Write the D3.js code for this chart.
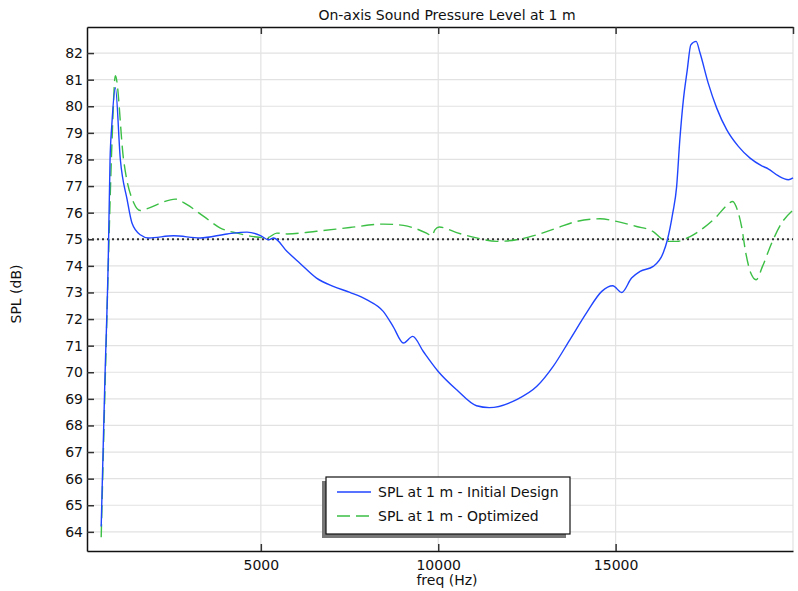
<!DOCTYPE html>
<html>
<head>
<meta charset="utf-8">
<script src="https://cdn.jsdelivr.net/npm/d3@7"></script>
<style>
  body { margin: 0; background: #fff; }
  svg { font-family: "DejaVu Sans", sans-serif; }
</style>
</head>
<body>
<svg id="chart" width="798" height="591"></svg>
<script>
// readings from the picture
const freqInitial = [500, 600, 700, 750, 800, 900, 1040, 1230, 1370, 1600, 1840, 2540, 3290, 4050, 4610, 4990, 5220, 5360, 5740,
  6100, 6570, 7040, 7510, 7980, 8450, 8730, 9020, 9280, 9580, 10000, 10520, 11080, 11440, 12210, 12780, 13240, 13710,
  14180, 14610, 14920, 15170, 15450, 15690, 16060, 16340, 16460, 16610, 16720, 16810, 16910, 17020, 17120, 17270,
  17380, 17610, 17850, 18130, 18460, 18790, 19120, 19300, 19580, 19870, 20000];
const splInitial = [64.2, 69.5, 74.3, 78.0, 79.3, 80.7, 78.0, 76.5, 75.6, 75.17, 75.05, 75.13, 75.05, 75.2, 75.27, 75.14, 74.98, 75.05, 74.54,
  74.1, 73.54, 73.23, 73.0, 72.73, 72.29, 71.72, 71.1, 71.35, 70.78, 70.03, 69.34, 68.74, 68.67, 68.97, 69.47, 70.22, 71.22,
  72.23, 73.04, 73.25, 73.0, 73.54, 73.79, 73.98, 74.48, 74.98, 75.98, 76.98, 78.74, 80.24, 81.37, 82.31, 82.44,
  82.0, 80.87, 79.93, 79.12, 78.49, 78.05, 77.76, 77.65, 77.39, 77.24, 77.31];

const freqOptimized = [500, 600, 700, 800, 900, 1130, 1420, 1600, 1840, 2170, 2590, 2920, 3390, 3860, 4330, 4800, 5170, 5450, 5740,
  6570, 7510, 8450, 9020, 9390, 9670, 9820, 9910, 10030, 10520, 11080, 11650, 12210, 12780, 13340, 13900, 14560, 15030,
  15590, 16060, 16340, 16530, 16720, 17100, 17470, 17850, 18130, 18300, 18430, 18550, 18670, 18810, 18960, 19140,
  19400, 19680, 20000];
const splOptimized = [63.8, 69.0, 74.0, 78.5, 81.15, 78.0, 76.36, 76.08, 76.17, 76.36, 76.51, 76.3, 75.86, 75.42, 75.23, 75.1, 75.05, 75.23, 75.2,
  75.3, 75.44, 75.57, 75.52, 75.39, 75.23, 75.13, 75.36, 75.46, 75.25, 75.05, 74.92, 74.98, 75.17, 75.42, 75.67, 75.77, 75.67,
  75.48, 75.29, 74.98, 74.92, 74.92, 75.1, 75.42, 75.86, 76.27, 76.42, 76.11, 75.48, 74.48, 73.73, 73.48, 73.98,
  74.86, 75.61, 76.1];

const targetLevel = 75;
const xTicks = [5000, 10000, 15000];
const yTicks = d3.range(64, 83);
const seriesNames = ["SPL at 1 m - Initial Design", "SPL at 1 m - Optimized"];

const plotLeft = 87, plotRight = 793, plotTop = 27, plotBottom = 551;
const svg = d3.select("#chart");

const x = d3.scaleLinear().domain([100, 20000]).range([plotLeft, plotRight]);
const y = d3.scaleLinear().domain([63.28, 82.98]).range([plotBottom, plotTop]);

// grid
svg.append("g").selectAll("line")
  .data(yTicks).enter().append("line")
  .attr("x1", plotLeft).attr("x2", plotRight)
  .attr("y1", d => y(d)).attr("y2", d => y(d))
  .attr("stroke", "#e2e2e2").attr("stroke-width", 1.2);
svg.append("g").selectAll("line")
  .data(xTicks.concat([20000])).enter().append("line")
  .attr("x1", d => x(d)).attr("x2", d => x(d))
  .attr("y1", plotTop).attr("y2", plotBottom)
  .attr("stroke", "#e2e2e2").attr("stroke-width", 1.2);

// axes
const yAxis = svg.append("g")
  .attr("transform", `translate(${plotLeft},0)`)
  .call(d3.axisLeft(y).tickValues(yTicks).tickSizeInner(-7).tickSizeOuter(0).tickPadding(4));
const xAxis = svg.append("g")
  .attr("transform", `translate(0,${plotBottom})`)
  .call(d3.axisBottom(x).tickValues(xTicks).tickSizeInner(-7).tickSizeOuter(0).tickPadding(9).tickFormat(d3.format("d")));
const xTop = svg.append("g")
  .attr("transform", `translate(0,${plotTop})`)
  .call(d3.axisTop(x).tickValues(xTicks.concat([20000])).tickSizeInner(-7).tickSizeOuter(0).tickFormat(""));

[yAxis, xAxis, xTop].forEach(g => {
  g.select(".domain").attr("stroke", "#111").attr("stroke-width", 1.5);
  g.selectAll(".tick line").attr("stroke", "#333").attr("stroke-width", 1.5);
  g.selectAll(".tick text").attr("font-size", 14).attr("fill", "#111")
    .attr("font-family", "DejaVu Sans");
});

// target line
svg.append("line")
  .attr("x1", plotLeft).attr("x2", plotRight)
  .attr("y1", y(targetLevel)).attr("y2", y(targetLevel))
  .attr("stroke", "#333").attr("stroke-width", 2)
  .attr("stroke-dasharray", "2,3");

const line = d3.line().curve(d3.curveMonotoneX).x(d => x(d[0])).y(d => y(d[1]));

svg.append("path")
  .datum(d3.zip(freqOptimized, splOptimized))
  .attr("fill", "none")
  .attr("stroke", "#3cbf45")
  .attr("stroke-width", 1.4)
  .attr("stroke-dasharray", "13,6")
  .attr("d", line);

svg.append("path")
  .datum(d3.zip(freqInitial, splInitial))
  .attr("fill", "none")
  .attr("stroke", "#2045ff")
  .attr("stroke-width", 1.4)
  .attr("d", line);

// labels
svg.append("text").attr("x", 447).attr("y", 20).attr("text-anchor", "middle")
  .attr("font-size", 14).attr("fill", "#111").text("On-axis Sound Pressure Level at 1 m");
svg.append("text").attr("x", 447).attr("y", 585).attr("text-anchor", "middle")
  .attr("font-size", 14).attr("fill", "#111").text("freq (Hz)");
svg.append("text").attr("transform", "translate(21,294) rotate(-90)").attr("text-anchor", "middle")
  .attr("font-size", 14).attr("fill", "#111").text("SPL (dB)");

// legend
const lg = svg.append("g").attr("transform", "translate(326,477)");
lg.append("rect").attr("x", -4).attr("y", 4).attr("width", 244).attr("height", 57).attr("fill", "#777");
lg.append("rect").attr("width", 244).attr("height", 57).attr("fill", "#fff")
  .attr("stroke", "#111").attr("stroke-width", 1.2);
const legendStyles = [
  {color: "#2045ff", dash: null},
  {color: "#3cbf45", dash: "13,6"}
];
seriesNames.forEach((name, i) => {
  const yy = 15 + i * 24;
  lg.append("line").attr("x1", 11).attr("x2", 45).attr("y1", yy).attr("y2", yy)
    .attr("stroke", legendStyles[i].color).attr("stroke-width", 1.4)
    .attr("stroke-dasharray", legendStyles[i].dash);
  lg.append("text").attr("x", 52).attr("y", yy + 5).attr("font-size", 14)
    .attr("fill", "#111").text(name);
});
</script>
</body>
</html>
